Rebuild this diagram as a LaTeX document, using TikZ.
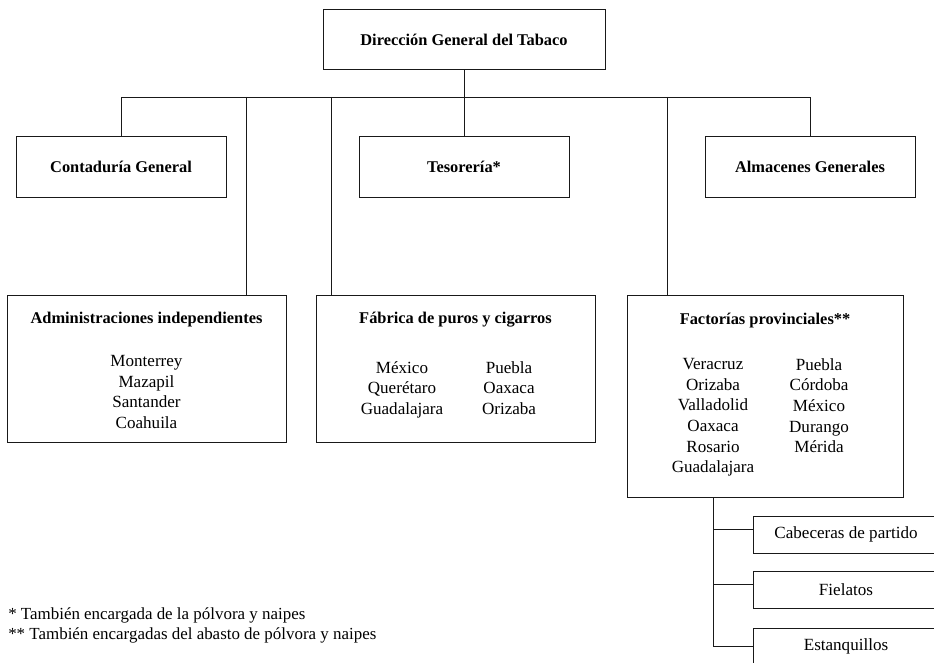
\documentclass[tikz,border=0pt]{standalone}
\usepackage{fontspec}
\setmainfont{Liberation Serif}
\usetikzlibrary{calc}
\begin{document}
\begin{tikzpicture}[x=0.75pt,y=-0.75pt,
  bx/.style={draw=black!90, line width=0.7pt, inner sep=0pt},
  hd/.style={font=\fontsize{12.3}{15}\selectfont\bfseries, inner sep=0pt},
  bd/.style={font=\fontsize{12.8}{15.5}\selectfont, align=center, inner sep=0pt},
  fn/.style={font=\fontsize{12.7}{15}\selectfont, inner sep=0pt, anchor=west},
  ln/.style={draw=black!90, line width=0.7pt}]
\clip (0,0) rectangle (934,663);
\fill[white] (0,0) rectangle (934,663);

% top row
\node[bx, minimum width=211.5pt, minimum height=45pt] (top) at (464,39) {};
\node[hd] (topt) at (464,40) {Dirección General del Tabaco};

% second row
\node[bx, minimum width=157.5pt, minimum height=45.75pt] (cont) at (121,166.5) {};
\node[hd] (contt) at (121,167) {Contaduría General};
\node[bx, minimum width=157.5pt, minimum height=45.75pt] (teso) at (464,166.5) {};
\node[hd] (tesot) at (464,167) {Tesorería*};
\node[bx, minimum width=157.5pt, minimum height=45.75pt] (alm) at (810,166.5) {};
\node[hd] (almt) at (810,167) {Almacenes Generales};

% third row
\node[bx, minimum width=209.25pt, minimum height=110.25pt] (admin) at (146.5,368.5) {};
\node[hd] (admint) at (146.5,320) {Administraciones independientes};
\node[bd, anchor=north] (adminl) at (146.5,355) {Monterrey\\Mazapil\\Santander\\Coahuila};

\node[bx, minimum width=209.25pt, minimum height=110.25pt] (fab) at (455.5,368.5) {};
\node[hd] (fabt) at (455.5,320) {Fábrica de puros y cigarros};
\node[bd, anchor=north] (fabl1) at (402,361) {México\\Querétaro\\Guadalajara};
\node[bd, anchor=north] (fabl2) at (509,361) {Puebla\\Oaxaca\\Orizaba};

\node[bx, minimum width=207pt, minimum height=151.5pt] (fact) at (765,396) {};
\node[hd] (factt) at (765,321) {Factorías provinciales**};
\node[bd, anchor=north] (factl1) at (713,358) {Veracruz\\Orizaba\\Valladolid\\Oaxaca\\Rosario\\Guadalajara};
\node[bd, anchor=north] (factl2) at (819,358) {Puebla\\Córdoba\\México\\Durango\\Mérida};

% sub boxes
\node[bx, minimum width=139.5pt, minimum height=27.75pt] (cab) at (846,534.5) {};
\node[bd] (cabt) at (846,534.5) {Cabeceras de partido};
\node[bx, minimum width=139.5pt, minimum height=27.75pt] (fiel) at (846,589.5) {};
\node[bd] (fielt) at (846,589.5) {Fielatos};
\node[bx, minimum width=139.5pt, minimum height=27.75pt] (estq) at (846,646.5) {};
\node[bd] (estqt) at (846,646.5) {Estanquillos};

% bus
\coordinate (busL) at (121,97);
\coordinate (busR) at (810,97);
\coordinate (dA) at (246,97);
\coordinate (dF) at (331,97);
\coordinate (dP) at (667,97);
\draw[ln] (top.south) -- (teso.north);
\draw[ln] (cont.north) -- (busL) -- (busR) -- (alm.north);
\draw[ln] (dA) -- (dA |- admin.north);
\draw[ln] (dF) -- (dF |- fab.north);
\draw[ln] (dP) -- (dP |- fact.north);

% sub connectors
\coordinate (sv) at (713,497);
\coordinate (c1) at (753,529);
\coordinate (c2) at (753,584);
\coordinate (c3) at (753,646);
\draw[ln] (sv |- fact.south) -- (sv |- c3) -- (c3);
\draw[ln] (sv |- c1) -- (c1);
\draw[ln] (sv |- c2) -- (c2);

% footnotes
\node[fn] (fn1) at (8,615) {* También encargada de la pólvora y naipes};
\node[fn] (fn2) at (8,635) {** También encargadas del abasto de pólvora y naipes};
\end{tikzpicture}
\end{document}
